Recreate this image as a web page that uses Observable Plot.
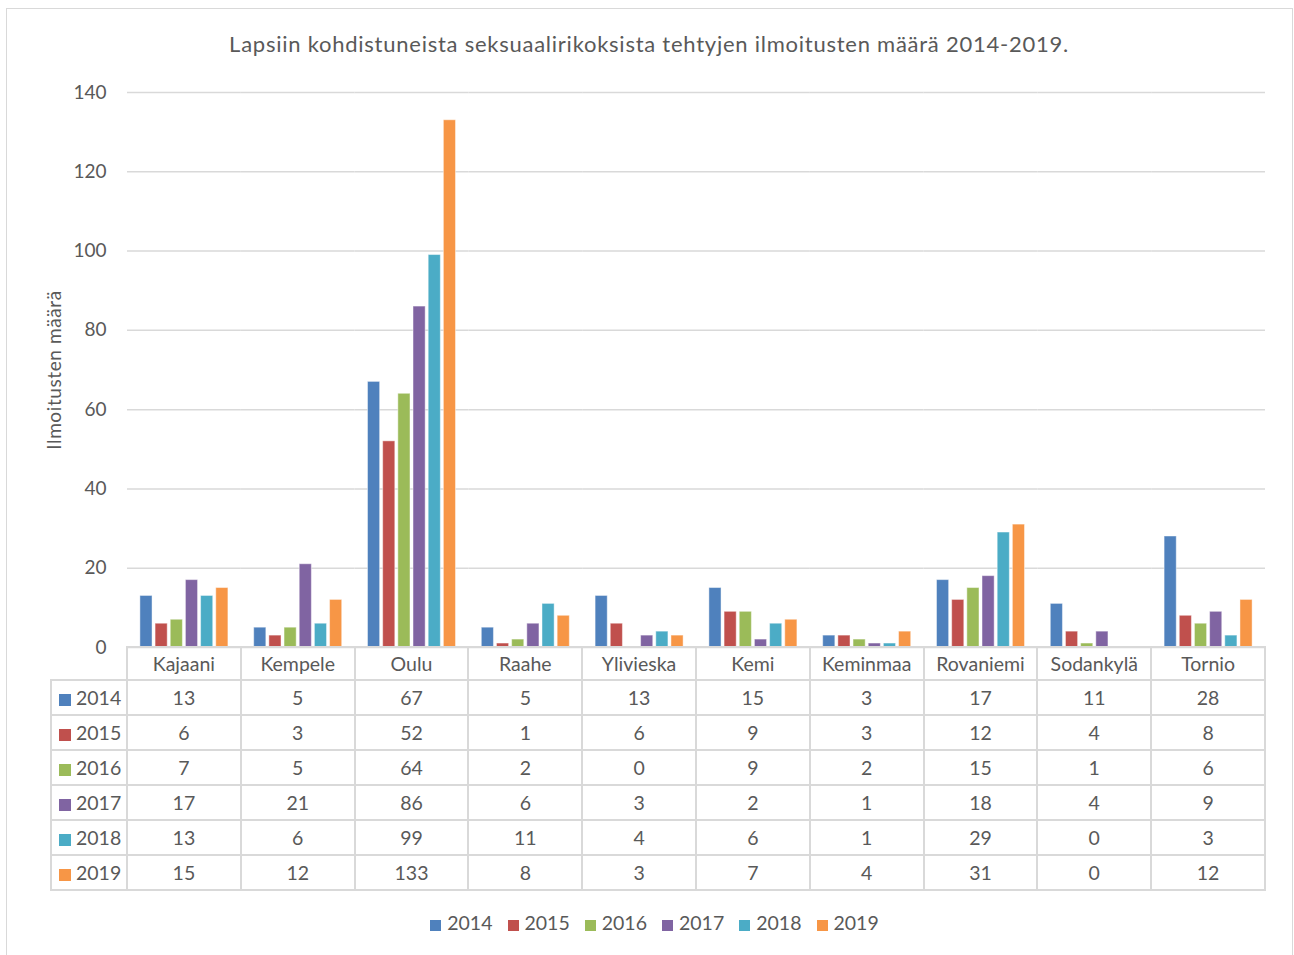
<!DOCTYPE html>
<html>
<head>
<meta charset="utf-8">
<script src="https://cdn.jsdelivr.net/npm/d3@7"></script>
<script src="https://cdn.jsdelivr.net/npm/@observablehq/plot@0.6"></script>
<style>
  body { margin: 0; background: #fff; font-family: Lato, "Open Sans", sans-serif; color: #595959; }
  #wrap { position: relative; width: 1294px; height: 955px; overflow: hidden; }
  #frame { position: absolute; left: 6px; top: 8px; width: 1287px; height: 960px; border: 1px solid #d9d9d9; box-sizing: border-box; }
  #title { position: absolute; left: 6px; width: 1286px; top: 30px; text-align: center; font-size: 22px; letter-spacing: 0.75px; }
  #chart { position: absolute; left: 0; top: 0; }
  #ylabel { position: absolute; left: 53px; top: 370px; transform: translate(-50%, -50%) rotate(-90deg); font-size: 19px; letter-spacing: 0.6px; white-space: nowrap; }
  table { position: absolute; left: 50px; top: 646px; border-collapse: collapse; table-layout: fixed; font-size: 19.5px; color: #595959; }
  td { border: 2px solid #d9d9d9; text-align: center; padding: 0; }
  td.key { text-align: left; padding-left: 7px; white-space: nowrap; }
  .sw { display: inline-block; width: 12px; height: 12px; margin-right: 5px; vertical-align: -1px; }
  #legend { position: absolute; left: 0; width: 1309px; top: 911px; display: flex; justify-content: center; font-size: 19.5px; }
  #legend span.item { margin: 0 7.5px; white-space: nowrap; }
  #legend .sw { width: 11px; height: 11px; margin-right: 6px; }
</style>
</head>
<body>
<div id="wrap">
  <div id="frame"></div>
  <div id="title"></div>
  <div id="chart"></div>
  <div id="ylabel"></div>
  <div id="tablewrap"></div>
  <div id="legend"></div>
</div>
<script>
const titleText = "Lapsiin kohdistuneista seksuaalirikoksista tehtyjen ilmoitusten määrä 2014-2019.";
const yLabelText = "Ilmoitusten määrä";
const cities = ["Kajaani", "Kempele", "Oulu", "Raahe", "Ylivieska", "Kemi", "Keminmaa", "Rovaniemi", "Sodankylä", "Tornio"];
const years = ["2014", "2015", "2016", "2017", "2018", "2019"];
const colors = ["#4F81BD", "#C0504D", "#9BBB59", "#8064A2", "#4BACC6", "#F79646"];
const yTicks = [0, 20, 40, 60, 80, 100, 120, 140];
const v2014 = [13, 5, 67, 5, 13, 15, 3, 17, 11, 28];
const v2015 = [6, 3, 52, 1, 6, 9, 3, 12, 4, 8];
const v2016 = [7, 5, 64, 2, 0, 9, 2, 15, 1, 6];
const v2017 = [17, 21, 86, 6, 3, 2, 1, 18, 4, 9];
const v2018 = [13, 6, 99, 11, 4, 6, 1, 29, 0, 3];
const v2019 = [15, 12, 133, 8, 3, 7, 4, 31, 0, 12];
const series = [v2014, v2015, v2016, v2017, v2018, v2019];

const data = [];
years.forEach((yr, i) => cities.forEach((c, j) => data.push({city: c, year: yr, value: series[i][j]})));

document.getElementById("title").textContent = titleText;
document.getElementById("ylabel").textContent = yLabelText;

const W = 1294, mL = 127, mR = 29;
const chart = Plot.plot({
  width: W, height: 660,
  marginLeft: mL, marginRight: mR, marginTop: 92, marginBottom: 13,
  style: {fontFamily: "Lato, 'Open Sans', sans-serif", fontSize: "19px", color: "#595959", background: "transparent"},
  fx: {domain: cities, padding: 0, round: false, axis: null},
  x: {domain: years, paddingInner: 0.2, paddingOuter: 0.85, round: false, axis: null},
  y: {domain: [0, 140]},
  color: {domain: years, range: colors},
  marks: [
    Plot.ruleY(yTicks, {stroke: "#d9d9d9", strokeWidth: 1.5}),
    Plot.axisY({ticks: yTicks, tickSize: 0, tickPadding: 21, fontSize: 19, label: null}),
    Plot.barY(data, {fx: "city", x: "year", y: "value", fill: "year", stroke: "#ffffff", strokeOpacity: 0.45, strokeWidth: 1})
  ]
});
document.getElementById("chart").appendChild(chart);

// data table
const colW = (W - mL - mR) / cities.length;
const table = document.createElement("table");
const cg = document.createElement("colgroup");
const c0 = document.createElement("col"); c0.style.width = (mL - 51) + "px"; cg.appendChild(c0);
cities.forEach(() => { const c = document.createElement("col"); c.style.width = colW + "px"; cg.appendChild(c); });
table.appendChild(cg);
const hr = document.createElement("tr"); hr.style.height = "33px";
const h0 = document.createElement("td"); h0.style.borderTop = "none"; h0.style.borderLeft = "none"; hr.appendChild(h0);
cities.forEach(c => { const td = document.createElement("td"); td.textContent = c; hr.appendChild(td); });
table.appendChild(hr);
years.forEach((yr, i) => {
  const tr = document.createElement("tr"); tr.style.height = "35px";
  const k = document.createElement("td"); k.className = "key";
  k.innerHTML = `<span class="sw" style="background:${colors[i]}"></span>${yr}`;
  tr.appendChild(k);
  series[i].forEach(v => { const td = document.createElement("td"); td.textContent = v; tr.appendChild(td); });
  table.appendChild(tr);
});
table.style.width = (W - mR - 50 + 1) + "px";
document.getElementById("tablewrap").appendChild(table);

// bottom legend
const lg = document.getElementById("legend");
years.forEach((yr, i) => {
  const s = document.createElement("span"); s.className = "item";
  s.innerHTML = `<span class="sw" style="background:${colors[i]}"></span>${yr}`;
  lg.appendChild(s);
});
</script>
</body>
</html>
